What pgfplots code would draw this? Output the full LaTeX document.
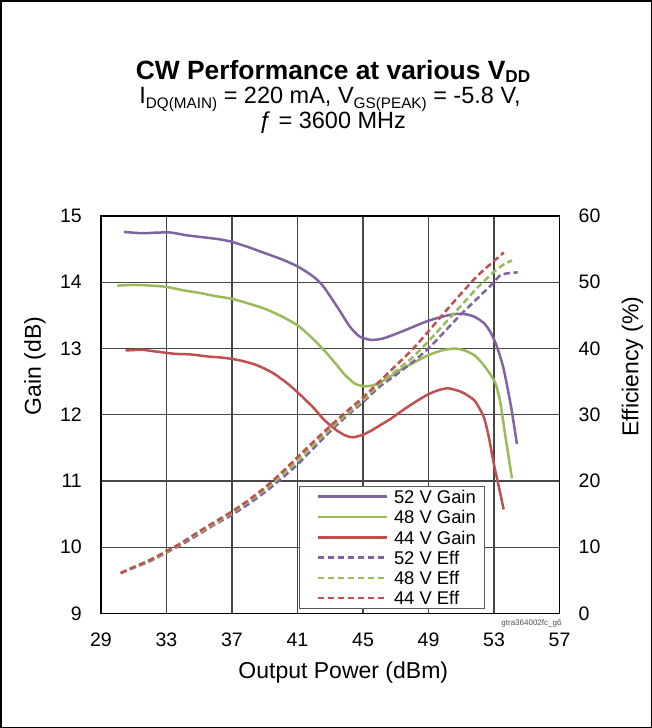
\documentclass[border=0pt]{standalone}
\usepackage{pgfplots}
\pgfplotsset{compat=1.18}
\usepackage{graphicx}
\usepackage{fontspec}
\setmainfont{Liberation Sans}
\definecolor{cPur}{RGB}{128,100,162}
\definecolor{cGrn}{RGB}{155,187,89}
\definecolor{cRed}{RGB}{192,80,77}
\newcommand\sub[1]{\raisebox{-0.22em}{\scalebox{0.65}{#1}}}
\newcommand\tsub[1]{\raisebox{-0.13em}{\scalebox{0.65}{#1}}}
\newcommand\fs[1]{\fontsize{#1}{#1}\selectfont}
\pgfplotsset{
  gainline/.style={line width=2.5bp, smooth, tension=0.4, no marks},
  effline/.style={line width=2.5bp, smooth, tension=0.4, no marks, dash pattern=on 6.5bp off 3.5bp},
  frame/.style={scale only axis, width=458.5bp, height=397.5bp,
    at={(101bp,-613.5bp)}, anchor=south west, xmin=29, xmax=57,
    major tick length=0pt,
    ticklabel style={font=\fs{19.5bp}},
    /pgf/number format/assume math mode=true},
}
\begin{document}
\begin{tikzpicture}
\useasboundingbox (0bp,0bp) rectangle (652bp,-728bp);
\draw[line width=1.5bp] (0.75bp,-0.75bp) rectangle (651.25bp,-727.25bp);

\begin{axis}[frame,
  ymin=9, ymax=15,
  xtick={29,33,...,57}, ytick={9,...,15},
  grid=major, grid style={black!72, line width=1.1bp},
  axis line style={line width=1.3bp},
  tick pos=left,
  xticklabel style={inner sep=0pt, yshift=-19bp},
  yticklabel style={inner sep=0pt, xshift=-19bp},
]
% 52 V Gain
\addplot[gainline, cPur] coordinates {
(30.4,14.76) (31.5,14.74) (32.5,14.75) (33.3,14.75) (34.2,14.71) (35.2,14.68)
(36.2,14.65) (37.0,14.61) (38.0,14.53) (39.0,14.44) (40.0,14.35) (41.0,14.24)
(42.0,14.08) (42.6,13.93) (43.5,13.60) (44.2,13.33) (44.8,13.18) (45.5,13.13)
(46.2,13.15) (47.0,13.22) (48.0,13.32) (49.0,13.42) (50.0,13.49) (50.6,13.52)
(51.2,13.52) (51.8,13.48) (52.4,13.38) (52.8,13.24) (53.1,13.08) (53.35,12.90)
(53.6,12.68) (54.0,12.18) (54.2,11.88) (54.4,11.56)};
% 48 V Gain
\addplot[gainline, cGrn] coordinates {
(30.0,13.95) (31.0,13.96) (32.0,13.95) (33.0,13.93) (34.0,13.88) (35.0,13.84)
(36.0,13.79) (37.0,13.75) (38.0,13.68) (39.0,13.60) (40.0,13.49) (41.0,13.35)
(41.8,13.18) (42.6,12.98) (43.3,12.78) (43.9,12.60) (44.5,12.47) (45.1,12.43)
(45.7,12.45) (46.5,12.55) (47.3,12.68) (48.2,12.80) (49.0,12.90) (49.8,12.97)
(50.6,13.00) (51.2,12.97) (51.8,12.90) (52.2,12.80) (52.58,12.68) (53.08,12.48)
(53.39,12.18) (53.7,11.67) (54.1,11.04)};
% 44 V Gain
\addplot[gainline, cRed] coordinates {
(30.5,12.97) (31.5,12.98) (32.5,12.95) (33.5,12.92) (34.5,12.91) (35.5,12.88)
(36.5,12.86) (37.5,12.82) (38.5,12.75) (39.5,12.63) (40.5,12.45) (41.3,12.27)
(42.0,12.10) (42.6,11.93) (43.3,11.78) (43.9,11.69) (44.4,11.66) (45.0,11.70)
(45.5,11.76) (46.1,11.85) (46.7,11.94) (47.5,12.08) (48.3,12.21) (49.0,12.31)
(49.6,12.37) (50.2,12.40) (50.96,12.35) (51.4,12.29) (51.86,12.20) (52.37,11.97)
(52.68,11.67) (52.98,11.27) (53.29,10.92) (53.59,10.57)};
\end{axis}

% legend frame
\filldraw[fill=white, draw=black!65, line width=1bp] (299.3bp,-486.7bp) rectangle (484.3bp,-608.3bp);

\begin{axis}[frame,
  ymin=0, ymax=60, ytick={0,10,...,60},
  axis x line=none, axis y line*=right,
  axis line style={line width=1.3bp},
  yticklabel style={inner sep=0pt, xshift=19bp},
  legend cell align=left,
  legend image code/.code={\path (0bp,0bp) (91bp,0bp); \draw[#1] (17bp,0bp) -- (86bp,0bp);},
  legend style={at={(0.4325,0.319)}, anchor=north west, draw=none, fill=none,
    font=\fs{18.4bp}, inner xsep=0bp, inner ysep=2bp, row sep=4.8bp, column sep=0bp,
    nodes={inner sep=1bp, text height=13.5bp, text depth=0bp}},
]
\addlegendimage{cPur, line width=2.5bp}\addlegendentry{52 V Gain}
\addlegendimage{cGrn, line width=2.5bp}\addlegendentry{48 V Gain}
\addlegendimage{cRed, line width=2.5bp}\addlegendentry{44 V Gain}
% 52 V Eff
\addplot[effline, cPur] coordinates {
(30.2,6.1) (31,6.9) (32,7.9) (33,9.2) (34,10.5) (35,12.0) (36,13.5) (37,14.9)
(38,16.5) (39,18.3) (40,20.3) (41,22.5) (42,25.0) (43,27.5) (44,29.8) (45,31.9)
(46,34.2) (47,36.0) (48,37.9) (49,40.0) (50,42.6) (51,45.2) (52,47.6) (53,50.0)
(53.3,50.9) (53.7,51.3) (54.45,51.5)};
\addlegendentry{52 V Eff}
% 48 V Eff
\addplot[effline, cGrn] coordinates {
(30.2,6.1) (31,7.0) (32,8.0) (33,9.3) (34,10.7) (35,12.2) (36,13.7) (37,15.2)
(38,16.9) (39,18.7) (40,20.8) (41,23.1) (42,25.5) (43,27.9) (44,30.1) (45,32.2)
(46,34.6) (47,36.6) (48,38.6) (49,41.1) (50,43.8) (51,46.5) (52,49.2) (53,51.6)
(53.6,52.7) (54.1,53.3)};
\addlegendentry{48 V Eff}
% 44 V Eff
\addplot[effline, cRed] coordinates {
(30.2,6.1) (31,7.0) (32,8.1) (33,9.4) (34,10.8) (35,12.4) (36,13.9) (37,15.4)
(38,17.1) (39,19.0) (40,21.2) (41,23.6) (42,26.0) (43,28.3) (44,30.5) (45,32.6)
(46,35.0) (47,37.4) (48,39.8) (49,42.6) (50,45.5) (51,48.3) (52,51.0) (53,53.2)
(53.6,54.5)};
\addlegendentry{44 V Eff}
\end{axis}

\node[anchor=base, font=\fs{26.4bp}\bfseries] at (333bp,-79bp)
  {CW Performance at various V\tsub{DD}};
\node[anchor=base, font=\fs{23.5bp}] at (330bp,-103bp)
  {I\sub{DQ(MAIN)} = 220 mA, V\sub{GS(PEAK)} = -5.8 V,};
\node[anchor=base, font=\fs{23.5bp}] at (332.5bp,-128bp) {ƒ = 3600 MHz};
\node[rotate=90, font=\fs{23bp}] at (35bp,-366bp) {Gain (dB)};
\node[rotate=90, font=\fs{23bp}] at (632.5bp,-366.5bp) {Efficiency (\%)};
\node[anchor=base, font=\fs{23bp}] at (343.3bp,-678.3bp) {Output Power (dBm)};
\node[anchor=base east, inner sep=0pt, font=\fs{8bp}, text=black!70] at (561.7bp,-625bp)
  {gtra364002fc\_g6};
\end{tikzpicture}
\end{document}
